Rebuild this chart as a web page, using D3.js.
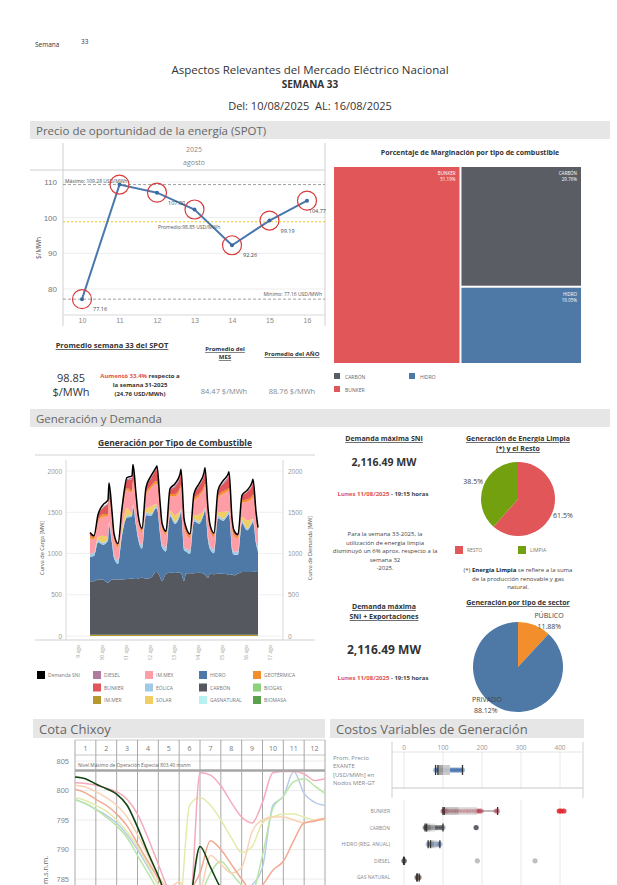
<!DOCTYPE html>
<html lang="es">
<head>
<meta charset="utf-8">
<title>Semana 33</title>
<script src="https://cdn.jsdelivr.net/npm/d3@7"></script>
<style>
  body { margin: 0; background: #fff; }
  svg { display: block; font-family: "Open Sans", "DejaVu Sans", sans-serif; }
</style>
</head>
<body>
<svg id="page" width="617" height="885"></svg>
<script>
// ---------- datos ----------
const spotDias = [10, 11, 12, 13, 14, 15, 16];
const spotValores = [77.16, 109.28, 107.00, 102.29, 92.26, 99.19, 104.77];
const spotEtiquetas = ["77.16", "", "107.00", "", "92.26", "99.19", "104.77"];
const spotTicks = [80, 90, 100, 110];
const spotMax = 109.28, spotMin = 77.16, spotProm = 98.85;

const margTipos = ["BUNKER", "CARBÓN", "HIDRO"];
const margPct = [51.19, 29.76, 19.05];
const margColores = ["#e15759", "#5a5d64", "#4e79a7"];

const genDias = ["9 ago", "10 ago", "11 ago", "12 ago", "13 ago", "14 ago", "15 ago", "16 ago", "17 ago"];
const genHorasDia = [0, 4, 8, 13, 18, 19, 22];
const genTicks = [0, 500, 1000, 1500, 2000];
const genDemanda = [1255, 1215, 1470, 1590, 1650, 1855, 1510,
  1240, 1120, 1550, 1920, 1940, 2080, 1725,
  1480, 1305, 1800, 1940, 2040, 2060, 1630,
  1370, 1270, 1785, 1845, 1960, 2020, 1430,
  1320, 1240, 1725, 1845, 1980, 2040, 1550,
  1350, 1250, 1765, 1880, 1960, 1990, 1430,
  1280, 1230, 1705, 1765, 1860, 1900, 1510, 1315];
const genImMer = [15, 14, 15, 16, 15, 15, 15, 15, 14, 15, 16, 16, 15, 15, 15, 15, 15, 16, 15, 15, 14,
  14, 15, 16, 15, 15, 15, 15, 15, 15, 15, 16, 16, 15, 15, 15, 14, 15, 16, 15, 15, 15,
  15, 15, 16, 16, 15, 15, 15, 15];
const genCarbon = [650, 650, 670, 670, 630, 640, 670,
  670, 670, 670, 675, 680, 680, 675,
  680, 690, 680, 690, 760, 760, 700,
  650, 740, 750, 750, 755, 750, 650,
  740, 745, 745, 750, 740, 730, 690,
  740, 735, 740, 740, 730, 725, 730,
  720, 740, 760, 760, 760, 765, 765, 760];
const genHidro = [295, 305, 450, 420, 510, 685, 435,
  260, 190, 530, 745, 750, 870, 645,
  490, 355, 770, 750, 770, 770, 525,
  410, 270, 685, 595, 695, 740, 375,
  270, 235, 630, 595, 730, 780, 455,
  300, 255, 675, 640, 720, 735, 295,
  250, 230, 595, 505, 590, 605, 340, 245];
const genEolica = [35, 40, 30, 25, 30, 35, 40, 40, 45, 30, 20, 25, 30, 35, 35, 40, 35, 25, 30, 35, 40,
  40, 45, 30, 25, 30, 30, 35, 35, 40, 30, 20, 25, 30, 40, 40, 45, 35, 25, 30, 35, 35,
  35, 40, 30, 25, 30, 35, 40, 35];
const genSolar = [0, 0, 35, 85, 15, 0, 0, 0, 0, 45, 95, 20, 0, 0, 0, 0, 40, 90, 25, 0, 0,
  0, 0, 40, 80, 20, 0, 0, 0, 0, 45, 90, 20, 0, 0, 0, 0, 35, 85, 15, 0, 0,
  0, 0, 40, 95, 20, 0, 0, 0];
const genImMex = [190, 160, 180, 230, 250, 260, 235, 175, 150, 170, 215, 245, 260, 230,
  180, 150, 165, 220, 250, 255, 225, 185, 155, 170, 225, 255, 265, 235,
  180, 150, 170, 220, 250, 260, 230, 175, 145, 165, 215, 245, 255, 225,
  185, 155, 175, 225, 250, 260, 230, 180];
const genGeo = [30, 30, 31, 30, 29, 30, 30, 31, 30, 30, 29, 30, 30, 31, 30, 30, 30, 31, 30, 29, 30,
  30, 31, 30, 30, 30, 30, 29, 30, 30, 31, 30, 30, 30, 30, 29, 30, 30, 30, 31, 30, 30,
  30, 30, 29, 30, 30, 31, 30, 30];
const genBunker = [35, 20, 45, 80, 120, 140, 75, 40, 20, 55, 95, 135, 155, 85,
  45, 25, 50, 90, 130, 150, 80, 40, 20, 50, 90, 125, 150, 80,
  40, 20, 50, 95, 130, 150, 80, 40, 20, 55, 90, 130, 145, 80,
  35, 20, 45, 85, 125, 145, 75, 40];
const genDiesel = [0, 0, 0, 5, 15, 25, 5, 0, 0, 0, 10, 20, 30, 5, 0, 0, 5, 10, 20, 30, 5,
  0, 0, 0, 10, 20, 30, 5, 0, 0, 0, 10, 20, 30, 5, 0, 0, 0, 10, 20, 25, 5,
  0, 0, 0, 5, 15, 25, 5, 0];

const legNombres = [["Demanda SNI"], ["DIESEL", "BUNKER", "IM.MER"], ["IM.MEX", "EÓLICA", "SOLAR"],
  ["HIDRO", "CARBÓN", "GASNATURAL"], ["GEOTÉRMICA", "BIOGAS", "BIOMASA"]];
const colores = {
  "Demanda SNI": "#000000", "DIESEL": "#b07aa1", "BUNKER": "#e15759", "IM.MER": "#b6992d",
  "IM.MEX": "#ff9da7", "EÓLICA": "#a0cbe8", "SOLAR": "#f1ce63", "HIDRO": "#4e79a7",
  "CARBÓN": "#55595f", "GASNATURAL": "#b8f2f0", "GEOTÉRMICA": "#f28e2b", "BIOGAS": "#8cd17d",
  "BIOMASA": "#59a14f"
};

const limpiaTipos = ["RESTO", "LIMPIA"];
const limpiaPct = [61.5, 38.5];
const limpiaColores = ["#e15759", "#73a00f"];
const sectorTipos = ["PÚBLICO", "PRIVADO"];
const sectorPct = [11.88, 88.12];
const sectorColores = ["#f28e2b", "#4e79a7"];

const cotaMeses = [1, 2, 3, 4, 5, 6, 7, 8, 9, 10, 11, 12];
const cotaTicks = [785, 790, 795, 800, 805];
const cotaNivelMax = 803.40;
const cota2025 = [802.3, 802.0, 801.1, 800.3, 799.4, 797.5, 793.8, 789.5, 785.5, 781, 778, 781, 790.5, 787, 783.5, 782];
const cotaRosa = [801.3, 801.2, 800.9, 800.4, 799.8, 798.5, 796, 792, 787.5, 783, 780, 780, 803, 802.6, 800.8, 798,
  795.5, 794.5, 798, 803, 803.2, 803.2, 802.8, 801.7, 802];
const cotaAmarillo = [798.8, 798.3, 797.5, 796.5, 795, 793, 790.5, 787.5, 784, 781, 780, 797.5, 798.8, 797.5, 795,
  792, 789.5, 790.5, 794.5, 795.5, 796, 796, 795.5, 795, 795];
const cotaVerde = [798.4, 797.8, 796.8, 795.5, 794, 792, 789, 786, 783, 780, 778, 779, 782, 786, 788, 786,
  784, 783, 789, 797, 799, 801.5, 802, 800.8, 799.5];
const cotaAzul = [798.5, 797.8, 796.8, 795.8, 794.5, 792.5, 790, 787, 784, 781, 778, 777, 778, 780, 782, 783,
  783, 784, 787, 797.5, 799, 803.2, 799.5, 798, 797.5];
const cotaDurazno = [800.9, 800.6, 799.8, 798.8, 797.5, 795.5, 792.5, 789, 785.5, 783.5, 784.5, 782, 783, 789,
  787.5, 786, 787, 793, 795, 795.5, 795.5, 795, 794.5, 795, 795.2];
const cotaSalmon = [800.2, 799.6, 798.5, 797.5, 796, 794, 791, 788, 785, 782, 781, 783, 786, 791.5, 790, 787.5,
  785, 783, 784, 786.5, 788, 791.5, 794.5, 794.8, 795.3];

const cvTicks = [0, 100, 200, 300, 400];
const cvTipos = ["BUNKER", "CARBÓN", "HIDRO (REG. ANUAL)", "DIESEL", "GAS NATURAL"];
const cvQ1 = [103, 58, 68, -1, 34];
const cvMediana = [140, 68, 77, 0, 36];
const cvQ3 = [187, 80, 86, 1, 38];
const cvMin = [100, 54, 62, -1, 33];
const cvMax = [240, 100, 92, 1, 39];
const cvPuntos = [
  [100, 102, 104, 106, 108, 112, 120, 128, 135, 142, 150, 158, 165, 172, 180, 186, 190, 194, 198, 236, 240],
  [54, 56, 58, 60, 62, 65, 68, 70, 74, 78, 82, 86, 92, 96, 100],
  [62, 65, 68, 71, 74, 77, 80, 83, 86, 89, 92],
  [0, 0, 1],
  [33, 35, 36, 37, 39]
];
const cvAtipicos = [[398, 403, 410], [185], [], [188, 336], []];
const cvColores = ["#b8364a", "#45484f", "#5f7fae", "#555555", "#6b4a3a"];
const cvColoresAtip = ["#e0262e", "#45484f", "#5f7fae", "#b5b5b5", "#6b4a3a"];
const exPuntos = [81, 85, 88, 92, 96, 100, 104, 108, 112, 118, 122, 126, 130, 134, 138, 142, 146, 150];
const exCaja = { q1: 87, med: 100, q3: 118, lo: 81, hi: 150 };

// ---------- utilidades ----------
const svg = d3.select("#page");

function txt(g, x, y, s, o = {}) {
  const t = g.append("text")
    .attr("x", x).attr("y", y)
    .attr("font-size", o.size || 7)
    .attr("fill", o.fill || "#333")
    .attr("text-anchor", o.anchor || "start")
    .attr("font-weight", o.weight || null)
    .text(s);
  if (o.under) t.style("text-decoration", "underline");
  return t;
}

function seccion(x, y, w, h, titulo, size) {
  svg.append("rect").attr("x", x).attr("y", y).attr("width", w).attr("height", h).attr("fill", "#e6e6e6");
  txt(svg, x + 6, y + h - 4.5, titulo, { size: size, fill: "#666" });
}

function linea(g, x1, y1, x2, y2, color, w) {
  return g.append("line").attr("x1", x1).attr("y1", y1).attr("x2", x2).attr("y2", y2)
    .attr("stroke", color).attr("stroke-width", w || 1);
}

// ---------- encabezado ----------
txt(svg, 35, 47, "Semana", { size: 6.5 });
txt(svg, 81, 44, "33", { size: 6.5 });
txt(svg, 310, 74, "Aspectos Relevantes del Mercado Eléctrico Nacional", { size: 11.5, anchor: "middle" });
txt(svg, 310, 88, "SEMANA 33", { size: 10, anchor: "middle", weight: "bold" });
txt(svg, 310, 110, "Del: 10/08/2025\u00a0\u00a0AL: 16/08/2025", { size: 11, anchor: "middle" });

seccion(30, 121, 580, 18, "Precio de oportunidad de la energía (SPOT)", 11.5);
seccion(30, 409, 580, 18, "Generación y Demanda", 11.5);
seccion(33, 719, 292, 19, "Cota Chixoy", 13);
seccion(330, 719, 254, 19, "Costos Variables de Generación", 13);

// ---------- SPOT ----------
const gs = svg.append("g");
const xSpot = d3.scalePoint().domain(spotDias).range([82, 307]);
const ySpot = d3.scaleLinear().domain([80, 110]).range([289, 182]);

gs.selectAll(".gs").data(spotTicks).join("line")
  .attr("x1", 63).attr("x2", 325)
  .attr("y1", d => ySpot(d)).attr("y2", d => ySpot(d))
  .attr("stroke", "#ededed");
linea(gs, 63, 143, 63, 326, "#d0d0d0");
linea(gs, 325, 143, 325, 326, "#d0d0d0");
linea(gs, 30, 170, 325, 170, "#d0d0d0");
linea(gs, 63, 315, 325, 315, "#d8d8d8");
txt(gs, 194, 152, "2025", { size: 7, fill: "#888", anchor: "middle" });
txt(gs, 194, 165, "agosto", { size: 7, fill: "#888", anchor: "middle" });

gs.append("g").attr("transform", "translate(60,0)")
  .call(d3.axisLeft(ySpot).tickValues(spotTicks).tickSize(0).tickPadding(3))
  .call(g => g.select(".domain").remove())
  .selectAll("text").attr("fill", "#777").attr("font-size", 8).attr("font-family", null);
gs.append("g").attr("transform", "translate(0,315)")
  .call(d3.axisBottom(xSpot).tickSize(0).tickPadding(3))
  .call(g => g.select(".domain").remove())
  .selectAll("text").attr("fill", "#888").attr("font-size", 7).attr("font-family", null);
txt(gs, 0, 0, "$/MWh", { size: 6.5, fill: "#555", anchor: "middle" })
  .attr("transform", "translate(41,248) rotate(-90)");

// referencias
linea(gs, 63, ySpot(spotMax), 325, ySpot(spotMax), "#888", 0.8).attr("stroke-dasharray", "3,2");
linea(gs, 63, ySpot(spotMin), 325, ySpot(spotMin), "#888", 0.8).attr("stroke-dasharray", "3,2");
linea(gs, 63, ySpot(spotProm), 325, ySpot(spotProm), "#e8c81e", 1.2).attr("stroke-dasharray", "2,2");
txt(gs, 65, ySpot(spotMax) - 2, "Máximo: 109.28 USD/MWh", { size: 5, fill: "#555" });
txt(gs, 322, ySpot(spotMin) - 3, "Mínimo: 77.16 USD/MWh", { size: 5, fill: "#555", anchor: "end" });

const spotDatos = spotDias.map((d, i) => ({ dia: d, v: spotValores[i], et: spotEtiquetas[i] }));
gs.append("path").datum(spotDatos)
  .attr("fill", "none").attr("stroke", "#4a78ac").attr("stroke-width", 2)
  .attr("d", d3.line().x(d => xSpot(d.dia)).y(d => ySpot(d.v)));
gs.selectAll(".pt").data(spotDatos).join("circle")
  .attr("cx", d => xSpot(d.dia)).attr("cy", d => ySpot(d.v)).attr("r", 2)
  .attr("fill", "#3d6a9e");
gs.selectAll(".ring").data(spotDatos).join("circle")
  .attr("cx", d => xSpot(d.dia)).attr("cy", d => ySpot(d.v)).attr("r", 9.5)
  .attr("fill", "none").attr("stroke", "#d83a3a").attr("stroke-width", 1.2);
spotDatos.forEach((d, i) => {
  if (!d.et) return;
  const ultimo = i === spotDatos.length - 1;
  txt(gs, ultimo ? 326 : xSpot(d.dia) + 11, ySpot(d.v) + 12, d.et,
    { size: 5.5, fill: "#444", anchor: ultimo ? "end" : "start" });
});
txt(gs, 158, ySpot(spotProm) + 7, "Promedio:98.85 USD/MWh", { size: 5, fill: "#555" });

// ---------- treemap ----------
txt(svg, 470, 155, "Porcentaje de Marginación por tipo de combustible", { size: 7, weight: "bold", anchor: "middle" });
const raiz = d3.hierarchy({ children: margTipos.map((t, i) => ({ name: t, v: margPct[i], c: margColores[i] })) })
  .sum(d => d.v || 0).sort((a, b) => b.value - a.value);
d3.treemap().size([247, 196]).paddingInner(2).tile(d3.treemapBinary)(raiz);
const gt = svg.append("g").attr("transform", "translate(334,167)");
const celdas = gt.selectAll("g").data(raiz.leaves()).join("g");
celdas.append("rect")
  .attr("x", d => d.x0).attr("y", d => d.y0)
  .attr("width", d => d.x1 - d.x0).attr("height", d => d.y1 - d.y0)
  .attr("fill", d => d.data.c);
celdas.append("text").attr("x", d => d.x1 - 4).attr("y", d => d.y0 + 8)
  .attr("text-anchor", "end").attr("font-size", 4.5).attr("fill", "#fff").text(d => d.data.name);
celdas.append("text").attr("x", d => d.x1 - 4).attr("y", d => d.y0 + 14)
  .attr("text-anchor", "end").attr("font-size", 4.5).attr("fill", "#fff").text(d => d.data.v.toFixed(2) + "%");

[["CARBÓN", 334, 373], ["HIDRO", 409, 373], ["BUNKER", 334, 386]].forEach(([n, x, y]) => {
  const i = margTipos.indexOf(n);
  svg.append("rect").attr("x", x).attr("y", y).attr("width", 6).attr("height", 6).attr("fill", margColores[i]);
  txt(svg, x + 11, y + 5.5, n, { size: 5, fill: "#666" });
});

// ---------- promedios ----------
txt(svg, 112, 348, "Promedio semana 33 del SPOT", { size: 7.5, weight: "bold", anchor: "middle", under: true });
txt(svg, 225, 351, "Promedio del", { size: 6, weight: "bold", anchor: "middle", under: true });
txt(svg, 225, 359, "MES", { size: 6, weight: "bold", anchor: "middle", under: true });
txt(svg, 292, 356, "Promedio del AÑO", { size: 6, weight: "bold", anchor: "middle", under: true });
txt(svg, 71, 382, "98.85", { size: 11, anchor: "middle" });
txt(svg, 71, 396, "$/MWh", { size: 11, anchor: "middle" });
const aum = txt(svg, 140, 378, "", { size: 6, weight: "bold", anchor: "middle" });
aum.append("tspan").attr("fill", "#e05050").text("Aumentó 33.4%");
aum.append("tspan").text(" respecto a");
txt(svg, 140, 387, "la semana 31-2025", { size: 6, weight: "bold", anchor: "middle" });
txt(svg, 140, 396, "(24.76 USD/MWh)", { size: 6, weight: "bold", anchor: "middle" });
txt(svg, 224, 394, "84.47 $/MWh", { size: 7.5, fill: "#888", anchor: "middle" });
txt(svg, 292, 394, "88.76 $/MWh", { size: 7.5, fill: "#888", anchor: "middle" });

// ---------- generación ----------
const gg = svg.append("g");
txt(gg, 175, 446, "Generación por Tipo de Combustible", { size: 8.5, weight: "bold", anchor: "middle", under: true });
linea(gg, 35, 455, 315, 455, "#e2e2e2", 1.5);

const xGen = d3.scaleLinear().domain([-24, 192]).range([66, 282]);
const yGen = d3.scaleLinear().domain([0, 2000]).range([636, 471]);
gg.selectAll(".gg").data(genTicks).join("line")
  .attr("x1", 66).attr("x2", 283).attr("y1", d => yGen(d)).attr("y2", d => yGen(d))
  .attr("stroke", "#f0f0f0");
linea(gg, 66, 460, 66, 640, "#d8d8d8");
linea(gg, 283, 460, 283, 640, "#d8d8d8");

const genHoras = d3.range(7).flatMap(d => genHorasDia.map(h => d * 24 + h)).concat([168]);
const genClaves = ["IM.MER", "CARBÓN", "HIDRO", "EÓLICA", "SOLAR", "IM.MEX", "GEOTÉRMICA", "BUNKER", "DIESEL"];
const genSeries = [genImMer, genCarbon, genHidro, genEolica, genSolar, genImMex, genGeo, genBunker, genDiesel];
const genFilas = genHoras.map((h, i) => {
  const f = { h: h, dem: genDemanda[i] };
  genClaves.forEach((k, j) => { f[k] = genSeries[j][i]; });
  return f;
});
const pila = d3.stack().keys(genClaves)(genFilas);
const area = d3.area().curve(d3.curveMonotoneX)
  .x(d => xGen(d.data.h)).y0(d => yGen(d[0])).y1(d => yGen(d[1]));
gg.selectAll(".capa").data(pila).join("path")
  .attr("fill", d => colores[d.key]).attr("d", area);
gg.append("path").datum(genFilas)
  .attr("fill", "none").attr("stroke", "#000").attr("stroke-width", 1.5)
  .attr("d", d3.line().curve(d3.curveMonotoneX).x(d => xGen(d.h)).y(d => yGen(d.dem)));

linea(gg, 35, 640, 315, 640, "#cfcfcf", 1.2);
gg.append("g").attr("transform", "translate(62,0)")
  .call(d3.axisLeft(yGen).tickValues(genTicks).tickFormat(d3.format("d")).tickSize(0).tickPadding(0))
  .call(g => g.select(".domain").remove())
  .selectAll("text").attr("fill", "#999").attr("font-size", 6.5).attr("font-family", null);
gg.append("g").attr("transform", "translate(288,0)")
  .call(d3.axisRight(yGen).tickValues(genTicks).tickFormat(d3.format("d")).tickSize(0).tickPadding(0))
  .call(g => g.select(".domain").remove())
  .selectAll("text").attr("fill", "#999").attr("font-size", 6.5).attr("font-family", null);
txt(gg, 0, 0, "Curva de Carga [MW]", { size: 5.5, fill: "#555", anchor: "middle" })
  .attr("transform", "translate(44,548) rotate(-90)");
txt(gg, 0, 0, "Curva de Demanda [MW]", { size: 5.5, fill: "#555", anchor: "middle" })
  .attr("transform", "translate(312,548) rotate(-90)");
genDias.forEach((d, i) => {
  txt(gg, 0, 0, d, { size: 5, fill: "#999", anchor: "end" })
    .attr("dy", "0.35em")
    .attr("transform", `translate(${xGen(i * 24 - 12)},645) rotate(-90)`);
});

const colX = [37, 93, 145, 199, 253];
legNombres.forEach((col, c) => col.forEach((n, r) => {
  const y = 671 + r * 12.5;
  gg.append("rect").attr("x", colX[c]).attr("y", y).attr("width", 8).attr("height", 8).attr("fill", colores[n]);
  txt(gg, colX[c] + 11, y + 6, n, { size: 5, fill: "#777" });
}));

// ---------- demanda máxima y tortas ----------
const gd = svg.append("g");
txt(gd, 384, 441, "Demanda máxima SNI", { size: 7, weight: "bold", anchor: "middle", under: true });
txt(gd, 384, 466, "2,116.49 MW", { size: 10.5, weight: "bold", anchor: "middle" });
function lunes(y) {
  const t = txt(gd, 383, y, "", { size: 6, weight: "bold", anchor: "middle" });
  t.append("tspan").attr("fill", "#e05050").text("Lunes 11/08/2025");
  t.append("tspan").attr("fill", "#444").text(" - 19:15 horas");
}
lunes(496);
["Para la semana 33-2025,  la", "utilización de energía limpia", "disminuyó un 6% aprox. respecto a la",
  "semana 32", "-2025."].forEach((s, i) => txt(gd, 385, 536 + i * 8.5, s, { size: 6, fill: "#444", anchor: "middle" }));
txt(gd, 384, 609, "Demanda máxima", { size: 7, weight: "bold", anchor: "middle", under: true });
txt(gd, 384, 619, "SNI + Exportaciones", { size: 7, weight: "bold", anchor: "middle", under: true });
txt(gd, 384, 654, "2,116.49 MW", { size: 12, weight: "bold", anchor: "middle" });
lunes(680);

txt(gd, 518, 441, "Generación de Energía Limpia", { size: 7, weight: "bold", anchor: "middle", under: true });
txt(gd, 518, 451, "(*) y el Resto", { size: 7, weight: "bold", anchor: "middle", under: true });

function torta(cx, cy, r, tipos, pct, cols) {
  const arcos = d3.pie().sort(null)(pct);
  const g = gd.append("g").attr("transform", `translate(${cx},${cy})`);
  g.selectAll("path").data(arcos).join("path")
    .attr("d", d3.arc().innerRadius(0).outerRadius(r))
    .attr("fill", (d, i) => cols[i]);
  return { g, arcos };
}
const t1 = torta(518, 499, 37, limpiaTipos, limpiaPct, limpiaColores);
const arcEt1 = d3.arc().innerRadius(48).outerRadius(48);
t1.g.selectAll("text").data(t1.arcos).join("text")
  .attr("transform", d => `translate(${arcEt1.centroid(d)})`)
  .attr("dy", "0.35em").attr("text-anchor", "middle")
  .attr("font-size", 7).attr("fill", "#444").text(d => d.data + "%");
limpiaTipos.forEach((n, i) => {
  const x = [455, 518][i];
  gd.append("rect").attr("x", x).attr("y", 546).attr("width", 8).attr("height", 8).attr("fill", limpiaColores[i]);
  txt(gd, x + 12, 552, n, { size: 5, fill: "#777" });
});
const nota = txt(gd, 518, 572, "", { size: 6, fill: "#444", anchor: "middle" });
nota.append("tspan").text("(*) ");
nota.append("tspan").attr("font-weight", "bold").attr("fill", "#222").text("Energía Limpia");
nota.append("tspan").text(" se refiere a la suma");
txt(gd, 518, 581, "de la producción renovable y gas", { size: 6, fill: "#444", anchor: "middle" });
txt(gd, 518, 589, "natural.", { size: 6, fill: "#444", anchor: "middle" });

txt(gd, 518, 605, "Generación por tipo de sector", { size: 7, weight: "bold", anchor: "middle", under: true });
const t2 = torta(518, 667, 45, sectorTipos, sectorPct, sectorColores);
const arcEt2 = d3.arc().innerRadius(45).outerRadius(45);
t2.arcos.forEach((a, i) => {
  const [x, y] = arcEt2.centroid(a);
  const anc = i === 0 ? "start" : "end";
  txt(t2.g, x, y - 7, sectorTipos[i], { size: 7, fill: "#444", anchor: anc });
  txt(t2.g, x + (i === 0 ? 3 : -4), y + 4, a.data.toFixed(2) + "%", { size: 7, fill: "#444", anchor: anc });
});

// ---------- cota Chixoy ----------
const gc = svg.append("g");
const xCota = d3.scaleLinear().domain([0, 12]).range([75, 325]);
const yCota = d3.scaleLinear().domain([785, 805]).range([879, 761]);
gc.append("clipPath").attr("id", "clipCota").append("rect")
  .attr("x", 75).attr("y", 755).attr("width", 250).attr("height", 130);
gc.selectAll(".gh").data(cotaTicks).join("line")
  .attr("x1", 75).attr("x2", 325).attr("y1", d => yCota(d)).attr("y2", d => yCota(d))
  .attr("stroke", "#ececec");
linea(gc, 75, 740, 325, 740, "#c8c8c8");
linea(gc, 75, 755, 325, 755, "#c8c8c8");
gc.selectAll(".gv").data(d3.range(13)).join("line")
  .attr("x1", d => xCota(d)).attr("x2", d => xCota(d)).attr("y1", 740).attr("y2", 885)
  .attr("stroke", "#a8a8a8");
gc.selectAll(".mes").data(cotaMeses).join("text")
  .attr("x", d => xCota(d - 0.5)).attr("y", 751).attr("text-anchor", "middle")
  .attr("font-size", 7).attr("fill", "#777").text(d => d);
gc.append("g").attr("transform", "translate(69,0)")
  .call(d3.axisLeft(yCota).tickValues(cotaTicks).tickSize(0).tickPadding(0))
  .call(g => g.select(".domain").remove())
  .selectAll("text").attr("fill", "#888").attr("font-size", 7.5).attr("font-family", null);
txt(gc, 0, 0, "m.s.n.m.", { size: 7, fill: "#666", anchor: "middle" })
  .attr("transform", "translate(48,870) rotate(-90)");

const cotaT = d3.range(25).map(i => i / 2);
const lineaCota = d3.line().curve(d3.curveMonotoneX).x((d, i) => xCota(cotaT[i])).y(d => yCota(d));
const gl = gc.append("g").attr("clip-path", "url(#clipCota)");
[[cotaAzul, "#b9cbe8"], [cotaVerde, "#b9e6a9"], [cotaAmarillo, "#e3ebab"], [cotaDurazno, "#f9d2b4"],
  [cotaSalmon, "#f3a993"], [cotaRosa, "#f5aabb"]].forEach(([s, c]) => {
  gl.append("path").datum(s).attr("fill", "none").attr("stroke", c).attr("stroke-width", 1.5).attr("d", lineaCota);
});
gl.append("path").datum(cota2025).attr("fill", "none").attr("stroke", "#124512").attr("stroke-width", 1.6)
  .attr("d", lineaCota);
linea(gc, 75, yCota(cotaNivelMax), 325, yCota(cotaNivelMax), "#a6a6a6", 2.5);
txt(gc, 78, yCota(cotaNivelMax) - 3.5, "Nivel Máximo de Operación Especial 803.40 msnm", { size: 4.8, fill: "#666" });

// ---------- costos variables ----------
const gv = svg.append("g");
const xCv = d3.scaleLinear().domain([0, 400]).range([404, 560]);
gv.selectAll(".vt").data(cvTicks).join("line")
  .attr("x1", d => xCv(d)).attr("x2", d => xCv(d)).attr("y1", 752).attr("y2", 788).attr("stroke", "#e8e8e8");
gv.selectAll(".vb").data(cvTicks).join("line")
  .attr("x1", d => xCv(d)).attr("x2", d => xCv(d)).attr("y1", 800).attr("y2", 885).attr("stroke", "#e8e8e8");
linea(gv, 392, 742, 392, 798, "#d0d0d0");
linea(gv, 583, 742, 583, 798, "#d0d0d0");
linea(gv, 392, 752, 583, 752, "#e4e4e4");
linea(gv, 392, 788, 583, 788, "#c8c8c8");
gv.selectAll(".tk").data(cvTicks).join("text")
  .attr("x", d => xCv(d)).attr("y", 750).attr("text-anchor", "middle")
  .attr("font-size", 6.5).attr("fill", "#999").text(d => d);
["Prom. Precio", "EXANTE", "[USD/MWh] en", "Nodos MER-GT"].forEach((s, i) =>
  txt(gv, 333, 760 + i * 8.3, s, { size: 6, fill: "#888" }));

function caja(y, h, st, puntos, color, atip, colorAtip, opCaja) {
  linea(gv, xCv(st.lo), y, xCv(st.hi), y, "#555", 0.8);
  gv.selectAll(null).data(puntos).join("circle")
    .attr("cx", d => xCv(d)).attr("cy", y).attr("r", 2.6)
    .attr("fill", color).attr("opacity", 0.45);
  gv.append("rect").attr("x", xCv(st.q1)).attr("y", y - h / 2)
    .attr("width", xCv(st.med) - xCv(st.q1)).attr("height", h)
    .attr("fill", "#9c9c9c").attr("opacity", opCaja);
  gv.append("rect").attr("x", xCv(st.med)).attr("y", y - h / 2)
    .attr("width", xCv(st.q3) - xCv(st.med)).attr("height", h)
    .attr("fill", "#c8c8c8").attr("opacity", opCaja);
  [st.lo, st.q1, st.hi].forEach(v => linea(gv, xCv(v), y - h / 2, xCv(v), y + h / 2, "#333", 1.3));
  gv.selectAll(null).data(atip).join("circle")
    .attr("cx", d => xCv(d)).attr("cy", y).attr("r", 2.6)
    .attr("fill", colorAtip).attr("opacity", 0.85);
}
caja(770, 10, exCaja, exPuntos, "#3f6fae", [], "#3f6fae", 0.9);
cvTipos.forEach((t, i) => {
  const y = 811 + i * 16.6;
  txt(gv, 390, y + 2, t, { size: 5, fill: "#888", anchor: "end" });
  caja(y, 8, { q1: cvQ1[i], med: cvMediana[i], q3: cvQ3[i], lo: cvMin[i], hi: cvMax[i] },
    cvPuntos[i], cvColores[i], cvAtipicos[i], cvColoresAtip[i], 0.55);
});
</script>
</body>
</html>
